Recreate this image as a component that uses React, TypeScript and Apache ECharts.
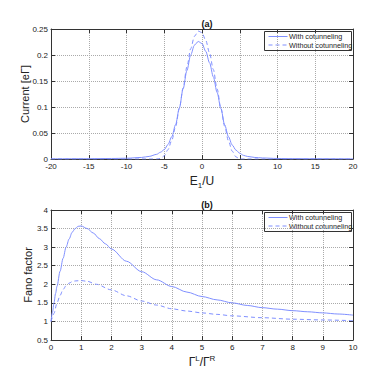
import React, { useEffect, useRef } from "react";
import * as echarts from "echarts";

const seriesNames = ["With cotunneling", "Without cotunneling"];

// Panel (a): current vs E1/U
const aX = [-20, -15, -12, -10, -8, -7, -6, -5.5, -5, -4.5, -4, -3.5, -3, -2.5, -2, -1.5, -1, -0.5, 0, 0.5, 1, 1.5, 2, 2.5, 3, 3.5, 4, 4.5, 5, 5.5, 6, 7, 8, 10, 12, 15, 20];
const aWith = [0.0003, 0.0006, 0.001, 0.0015, 0.003, 0.005, 0.009, 0.013, 0.018, 0.028, 0.043, 0.066, 0.098, 0.135, 0.170, 0.200, 0.219, 0.226, 0.222, 0.207, 0.185, 0.158, 0.128, 0.097, 0.066, 0.043, 0.027, 0.017, 0.011, 0.007, 0.005, 0.003, 0.002, 0.001, 0.0007, 0.0005, 0.0003];
const aWithout = [0, 0, 0, 0, 0, 0, 0, 0.001, 0.006, 0.018, 0.036, 0.062, 0.097, 0.137, 0.177, 0.212, 0.236, 0.246, 0.243, 0.228, 0.204, 0.172, 0.135, 0.098, 0.063, 0.035, 0.015, 0.004, 0, 0, 0, 0, 0, 0, 0, 0, 0];

// Panel (b): Fano factor vs GammaL/GammaR
const bXWith = [0, 0.05, 0.1, 0.15, 0.2, 0.3, 0.4, 0.5, 0.6, 0.7, 0.8, 0.9, 1.0, 1.2, 1.4, 1.6, 1.8, 2, 2.5, 3, 3.5, 4, 4.5, 5, 5.5, 6, 6.5, 7, 7.5, 8, 8.5, 9, 9.5, 10];
const bWith = [1.0, 1.25, 1.5, 1.75, 1.95, 2.35, 2.7, 3.0, 3.22, 3.4, 3.5, 3.56, 3.57, 3.5, 3.38, 3.23, 3.09, 2.95, 2.62, 2.34, 2.12, 1.94, 1.79, 1.67, 1.58, 1.5, 1.43, 1.37, 1.33, 1.29, 1.26, 1.23, 1.2, 1.17];
const bXWithout = [0, 0.05, 0.1, 0.2, 0.3, 0.4, 0.5, 0.6, 0.7, 0.8, 1.0, 1.2, 1.5, 2, 2.5, 3, 3.5, 4, 4.5, 5, 5.5, 6, 7, 8, 9, 10];
const bWithout = [1.0, 1.1, 1.22, 1.5, 1.7, 1.86, 1.96, 2.03, 2.07, 2.09, 2.1, 2.08, 2.0, 1.85, 1.69, 1.55, 1.44, 1.34, 1.28, 1.23, 1.19, 1.15, 1.1, 1.06, 1.04, 1.02];

const zip = (xs: number[], ys: number[]) => xs.map((x, i) => [x, ys[i]]);

const COLOR = "#8090ff";
const FONT = "Liberation Sans";
const DASH = [4, 3];

export default function App() {
  const ref = useRef<HTMLDivElement>(null);
  useEffect(() => {
    if (!ref.current) return;
    const chart = echarts.init(ref.current, undefined, { renderer: "svg" });
    const axisLine = { show: true, onZero: false, lineStyle: { color: "#333", width: 1 } };
    const tickIn = { show: true, inside: true, length: 4, lineStyle: { color: "#333" } };
    const split = { show: true, lineStyle: { type: "dotted" as const, color: "#aaa", width: 1 } };
    const lbl = { fontSize: 8, color: "#222", fontFamily: FONT };
    const mkX = (grid: number, min: number, max: number, interval: number, name: string, rich: any) => [
      {
        type: "value", gridIndex: grid, min, max, interval, position: "bottom",
        axisLine, axisTick: tickIn, splitLine: split, axisLabel: { ...lbl, margin: 3 },
        name, nameLocation: "middle", nameGap: 14, nameMoveOverlap: false,
        nameTextStyle: { rich, fontFamily: FONT },
      },
      {
        type: "value", gridIndex: grid, min, max, interval, position: "top",
        axisLine, axisTick: tickIn, splitLine: { show: false }, axisLabel: { show: false },
      },
    ];
    const mkY = (grid: number, min: number, max: number, interval: number, name: string, gap: number) => [
      {
        type: "value", gridIndex: grid, min, max, interval, position: "left",
        axisLine, axisTick: tickIn, splitLine: split, axisLabel: { ...lbl, margin: 3 },
        name, nameLocation: "middle", nameGap: gap, nameRotate: 90, nameMoveOverlap: false,
        nameTextStyle: { fontSize: 11, color: "#222", fontFamily: FONT },
      },
      {
        type: "value", gridIndex: grid, min, max, interval, position: "right",
        axisLine, axisTick: tickIn, splitLine: { show: false }, axisLabel: { show: false },
      },
    ];
    const richA = {
      m: { fontSize: 12, color: "#222", fontFamily: FONT },
      s: { fontSize: 8, color: "#222", fontFamily: FONT, verticalAlign: "bottom", padding: [8, 0, 0, 0] },
    };
    const richB = {
      m: { fontSize: 12, color: "#222", fontFamily: FONT },
      s: { fontSize: 8, color: "#222", fontFamily: FONT, verticalAlign: "top", padding: [0, 0, 8, 0] },
    };
    const legendBox = (top: number) => ({
      type: "group",
      left: 264,
      top,
      children: [
        { type: "rect", shape: { x: 0, y: 0, width: 87, height: 19 }, style: { fill: "#fff", stroke: "#333", lineWidth: 1 } },
        { type: "line", shape: { x1: 4, y1: 5, x2: 23, y2: 5 }, style: { stroke: COLOR, lineWidth: 1 } },
        { type: "line", shape: { x1: 4, y1: 13.5, x2: 23, y2: 13.5 }, style: { stroke: COLOR, lineWidth: 1, lineDash: DASH } },
        { type: "text", x: 24.5, y: 5, style: { text: seriesNames[0], fontSize: 7.2, fontFamily: FONT, fill: "#222", verticalAlign: "middle" } },
        { type: "text", x: 24.5, y: 13.5, style: { text: seriesNames[1], fontSize: 7.2, fontFamily: FONT, fill: "#222", verticalAlign: "middle" } },
      ],
    });
    const lineSeries = (name: string, xi: number, yi: number, data: number[][], dashed: boolean) => ({
      type: "line", name, xAxisIndex: xi, yAxisIndex: yi, data, symbol: "none",
      smooth: 0.3, smoothMonotone: "x",
      lineStyle: { color: COLOR, width: 1, type: dashed ? DASH : "solid" },
      itemStyle: { color: COLOR },
    });
    chart.setOption({
      animation: false,
      backgroundColor: "#fff",
      title: [
        { text: "(a)", left: 202, top: 14, textAlign: "center", textStyle: { fontSize: 9, fontWeight: "bold", color: "#111", fontFamily: FONT } },
        { text: "(b)", left: 202, top: 195, textAlign: "center", textStyle: { fontSize: 9, fontWeight: "bold", color: "#111", fontFamily: FONT } },
      ],
      grid: [
        { left: 51, top: 29, width: 302, height: 130 },
        { left: 51, top: 210, width: 302, height: 130 },
      ],
      graphic: [legendBox(31), legendBox(212)],
      xAxis: [
        ...mkX(0, -20, 20, 5, "{m|E}{s|1}{m|/U}", richA),
        ...mkX(1, 0, 10, 1, "{m|Γ}{s|L}{m|/Γ}{s|R}", richB),
      ],
      yAxis: [
        ...mkY(0, 0, 0.25, 0.05, "Current [eΓ]", 21),
        ...mkY(1, 0.5, 4, 0.5, "Fano factor", 18),
      ],
      series: [
        lineSeries(seriesNames[0], 0, 0, zip(aX, aWith), false),
        lineSeries(seriesNames[1], 0, 0, zip(aX, aWithout), true),
        lineSeries(seriesNames[0], 2, 2, zip(bXWith, bWith), false),
        lineSeries(seriesNames[1], 2, 2, zip(bXWithout, bWithout), true),
      ],
    });
    return () => chart.dispose();
  }, []);
  return <div ref={ref} style={{ position: "fixed", left: 0, top: 0, width: 390, height: 383 }} />;
}
